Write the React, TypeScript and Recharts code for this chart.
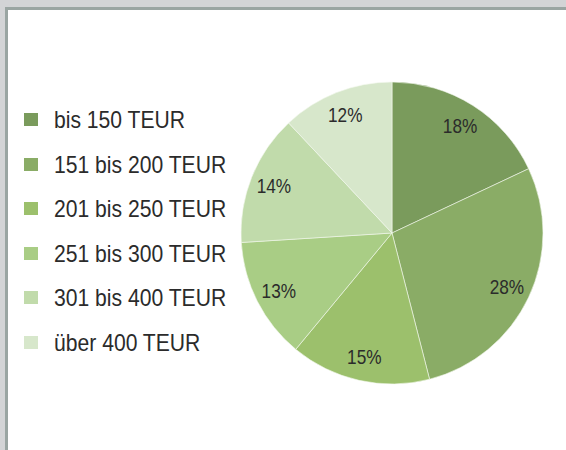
import React from "react";
import { PieChart, Pie, Cell, Legend } from "recharts";

const categories = [
  "bis 150 TEUR",
  "151 bis 200 TEUR",
  "201 bis 250 TEUR",
  "251 bis 300 TEUR",
  "301 bis 400 TEUR",
  "über 400 TEUR",
];
const shares = [18, 28, 15, 13, 14, 12];
const colors = ["#7a9b5c", "#8aac66", "#9cc06c", "#a9cd85", "#c1dbab", "#d7e7cb"];

const data = categories.map((name, i) => ({ name, value: shares[i] }));

const FONT = "'Liberation Sans', Arial, sans-serif";
const RADIAN = Math.PI / 180;

// condensed look: the original uses a narrow face, so squeeze horizontally
const renderLabel = (props: any) => {
  const { cx, cy, midAngle, value } = props;
  const r = 127;
  const x = cx + r * Math.cos(-midAngle * RADIAN);
  const y = cy + r * Math.sin(-midAngle * RADIAN);
  return (
    <text
      x={0}
      y={0}
      transform={`translate(${x},${y}) scale(0.82,1)`}
      textAnchor="middle"
      dominantBaseline="central"
      fill="#2b2b2b"
      fontFamily={FONT}
      fontSize={21}
    >
      {`${value}%`}
    </text>
  );
};

const LegendList = () => (
  <div style={{ fontFamily: FONT }}>
    {categories.map((c, i) => (
      <div key={c} style={{ position: "relative", height: 44.6 }}>
        <div
          style={{
            position: "absolute",
            left: 0,
            top: 5,
            width: 14,
            height: 13,
            background: colors[i],
          }}
        />
        <span
          style={{
            position: "absolute",
            left: 30,
            top: 0,
            fontSize: 24,
            lineHeight: "24px",
            color: "#2b2b2b",
            whiteSpace: "nowrap",
            transform: "scaleX(0.88)",
            transformOrigin: "left center",
          }}
        >
          {c}
        </span>
      </div>
    ))}
  </div>
);

export default function App() {
  return (
    <div
      style={{
        position: "absolute",
        left: 0,
        top: 0,
        width: 566,
        height: 450,
        background: "#d3d4d6",
        overflow: "hidden",
      }}
    >
      <div
        style={{
          position: "absolute",
          left: 5,
          top: 7,
          right: 0,
          bottom: 0,
          background: "#fff",
          borderTop: "3px solid #9aa5a2",
          borderLeft: "3px solid #9aa5a2",
        }}
      />
      <div style={{ position: "absolute", left: 0, top: 0 }}>
        <PieChart width={566} height={450} margin={{ top: 0, right: 0, bottom: 0, left: 0 }}>
          <Pie
            data={data}
            dataKey="value"
            nameKey="name"
            cx={392}
            cy={233}
            outerRadius={151}
            startAngle={90}
            endAngle={-270}
            stroke="#f4f8ef"
            strokeWidth={0.6}
            label={renderLabel}
            labelLine={false}
            isAnimationActive={false}
          >
            {data.map((d, i) => (
              <Cell key={d.name} fill={colors[i]} />
            ))}
          </Pie>
          <Legend
            content={<LegendList />}
            wrapperStyle={{ left: 24, top: 108, width: 220, bottom: "auto", right: "auto" }}
          />
        </PieChart>
      </div>
    </div>
  );
}
